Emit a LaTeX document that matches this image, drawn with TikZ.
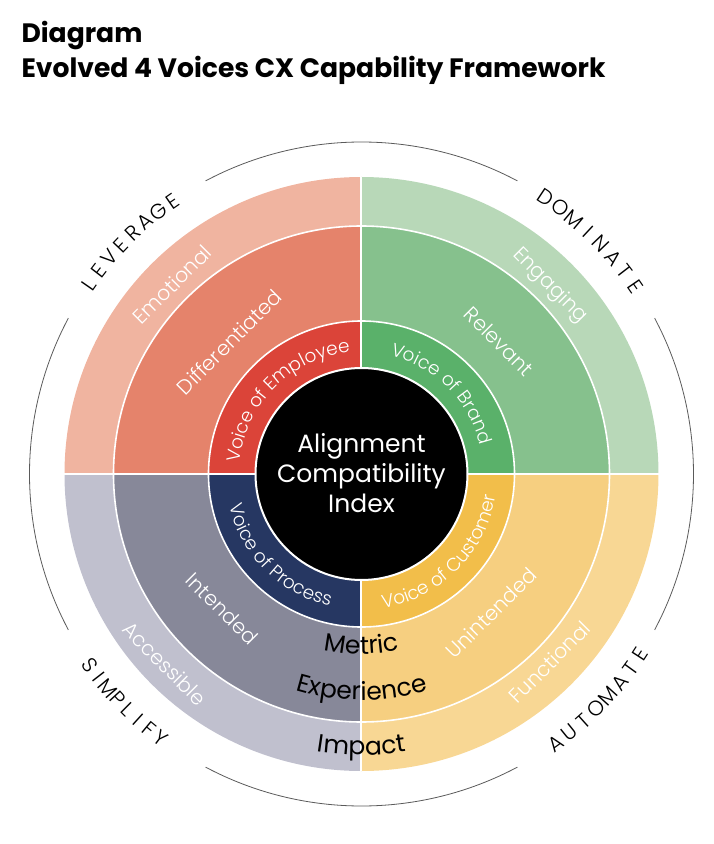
\documentclass[tikz,border=0pt]{standalone}
\usepackage{fontspec}
\setmainfont{Poppins}
\newfontfamily\thinfont{Poppins}[UprightFont=* Light]
\usetikzlibrary{decorations.text}

\definecolor{empout}{HTML}{F0B4A0}
\definecolor{empmid}{HTML}{E5836B}
\definecolor{empin}{HTML}{DB4439}
\definecolor{brdout}{HTML}{B8D8B8}
\definecolor{brdmid}{HTML}{86C18D}
\definecolor{brdin}{HTML}{5AB16A}
\definecolor{proout}{HTML}{C0C0CE}
\definecolor{promid}{HTML}{878899}
\definecolor{proin}{HTML}{263762}
\definecolor{cusout}{HTML}{F8D794}
\definecolor{cusmid}{HTML}{F6CF80}
\definecolor{cusin}{HTML}{F2BE4A}
\definecolor{arcgray}{HTML}{5A5A5A}

\newcommand{\voicefont}{\thinfont\fontsize{18.5}{18.5}\selectfont}
\newcommand{\layerfont}{\fontsize{25}{25}\selectfont}

\begin{document}
\begin{tikzpicture}[x=1pt, y=1pt,
  caps/.style={font=\thinfont\fontsize{21}{21}\selectfont, inner sep=0pt},
  wlabel/.style={font=\thinfont\fontsize{20.5}{20.5}\selectfont, text=white, inner sep=0pt},
  sep/.style={white, line width=1.6pt},
  rim/.style={arcgray, line width=0.8pt}]

\useasboundingbox (-361.5,-370) rectangle (352.5,474);

\pgfmathsetmacro{\rout}{297}
\pgfmathsetmacro{\rmid}{248}
\pgfmathsetmacro{\rvoice}{153}
\pgfmathsetmacro{\rcore}{106}
\pgfmathsetmacro{\rrim}{332}

\coordinate (o) at (0,0);

% title
\node[anchor=base west, font=\bfseries\fontsize{26.6}{26.6}\selectfont] (title) at (-343.5,431) {Diagram};
\node[anchor=base west, font=\bfseries\fontsize{26.6}{26.6}\selectfont] (subtitle) at (-343.5,396) {Evolved 4 Voices CX Capability Framework};

% quadrant sectors
\foreach \a/\cout/\cmid/\cin in {90/empout/empmid/empin, 0/brdout/brdmid/brdin, 180/proout/promid/proin, 270/cusout/cusmid/cusin} {
  \fill[\cout] (o) -- (\a:\rout) arc[start angle=\a, end angle=\a+90, radius=\rout] -- cycle;
  \fill[\cmid] (o) -- (\a:\rmid) arc[start angle=\a, end angle=\a+90, radius=\rmid] -- cycle;
  \fill[\cin] (o) -- (\a:\rvoice) arc[start angle=\a, end angle=\a+90, radius=\rvoice] -- cycle;
}

\draw[sep] (o) circle[radius=\rmid];
\draw[sep] (o) circle[radius=\rvoice];
\draw[sep, line width=2pt] (180:\rout) -- (0:\rout);
\draw[sep, line width=2pt] (90:\rout) -- (270:\rout);
\draw[sep, line width=2pt, fill=black] (o) circle[radius=\rcore];

% rim arcs
\foreach \a in {0,90,180,270}
  \draw[rim] ({\a-28}:\rrim) arc[start angle=\a-28, end angle=\a+28, radius=\rrim];

% centre
\node[align=center, text=white, font=\fontsize{25}{30}\selectfont] (aci) at (0,1) {Alignment\\Compatibility\\Index};

% voices
\path[decorate, decoration={text along path, text align=center, text color=white, text={|\voicefont|Voice of Employee}}] (195:122) arc[start angle=195, end angle=75, radius=122];
\path[decorate, decoration={text along path, text align=center, text color=white, text={|\voicefont|Voice of Brand}}] (105:122) arc[start angle=105, end angle=-15, radius=122];
\path[decorate, decoration={text along path, text align=center, text color=white, text={|\voicefont|Voice of Process}}] (165:136) arc[start angle=165, end angle=285, radius=136];
\path[decorate, decoration={text along path, text align=center, text color=white, text={|\voicefont|Voice of Customer}}] (255:136) arc[start angle=255, end angle=375, radius=136];

% ring labels
\node[wlabel, rotate=45] (emo) at (135:268) {Emotional};
\node[wlabel, rotate=45] (dif) at (135:187) {Differentiated};
\node[wlabel, rotate=-45] (eng) at (45:266) {Engaging};
\node[wlabel, rotate=-45] (rel) at (44:191) {Relevant};
\node[wlabel, rotate=-45] (acc) at (224:273) {Accessible};
\node[wlabel, rotate=-45] (int) at (224:194) {Intended};
\node[wlabel, rotate=45] (fun) at (-45:266) {Functional};
\node[wlabel, rotate=45] (uni) at (-47:190) {Unintended};

% layer labels
\path[decorate, decoration={text along path, text align=center, text={|\layerfont|Metric}}] (180:180) arc[start angle=180, end angle=360, radius=180];
\path[decorate, decoration={text along path, text align=center, text={|\layerfont|Experience}}] (180:226) arc[start angle=180, end angle=360, radius=226];
\path[decorate, decoration={text along path, text align=center, text={|\layerfont|Impact}}] (180:281) arc[start angle=180, end angle=360, radius=281];

% strategies
\foreach \ch [count=\i] in {L,E,V,E,R,A,G,E} {
  \pgfmathsetmacro{\ang}{135+(4.5-\i)*2.93}
  \node[caps, rotate=\ang-90] (lev\i) at (\ang:\rrim) {\ch};
}
\foreach \ch [count=\i] in {D,O,M,I,N,A,T,E} {
  \pgfmathsetmacro{\ang}{45.4+(4.5-\i)*3.14}
  \node[caps, rotate=\ang-90] (dom\i) at (\ang:\rrim) {\ch};
}
\foreach \ch [count=\i] in {S,I,M,P,L,I,F,Y} {
  \pgfmathsetmacro{\ang}{224+(\i-4.5)*2.51}
  \node[caps, rotate=\ang+90] (sim\i) at (\ang:\rrim) {\ch};
}
\foreach \ch [count=\i] in {A,U,T,O,M,A,T,E} {
  \pgfmathsetmacro{\ang}{-43.5+(\i-4.5)*3.06}
  \node[caps, rotate=\ang+90] (aut\i) at (\ang:\rrim) {\ch};
}

\end{tikzpicture}
\end{document}
